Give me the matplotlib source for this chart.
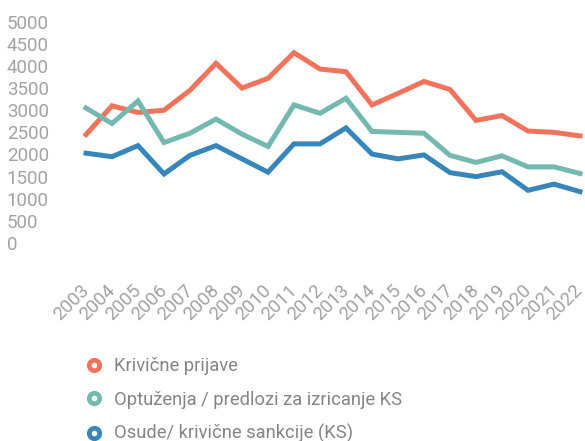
import matplotlib
matplotlib.use("Agg")
import matplotlib.pyplot as plt
from matplotlib.lines import Line2D

plt.rcParams['font.family'] = ['Roboto', 'DejaVu Sans']

# data
years = [str(y) for y in range(2003, 2023)]
prijave = [2450, 3100, 2950, 3000, 3450, 4060, 3500, 3720, 4300, 3930,
           3870, 3120, 3380, 3650, 3470, 2770, 2880, 2530, 2500, 2420]
optuzenja = [3050, 2700, 3210, 2270, 2480, 2800, 2460, 2180, 3120, 2930,
             3270, 2520, 2500, 2480, 1980, 1820, 1970, 1720, 1720, 1570]
osude = [2030, 1950, 2200, 1560, 1980, 2200, 1900, 1600, 2240, 2240,
         2600, 2010, 1900, 1990, 1590, 1500, 1610, 1190, 1330, 1160]
labels = ["Krivične prijave", "Optuženja / predlozi za izricanje KS",
          "Osude/ krivične sankcije (KS)"]
colors = ["#f2735b", "#73b9b0", "#3686b9"]
yticks = list(range(0, 5001, 500))

W, H = 585, 441
fig = plt.figure(figsize=(W / 100, H / 100), dpi=100)
ax = fig.add_axes([86 / W, 1 - 243 / H, (580 - 86) / W, (243 - 21.7) / H])

x = list(range(len(years)))
for vals, c in zip([prijave, optuzenja, osude], colors):
    ax.plot(x, vals, color=c, lw=3.6, solid_joinstyle='miter', clip_on=False)

ax.set_xlim(0, len(years) - 1)
ax.set_ylim(0, 5000)
ax.set_yticks(yticks)
ax.set_yticklabels([str(t) for t in yticks])
ax.set_xticks(x)
ax.set_xticklabels(years)
for s in ax.spines.values():
    s.set_visible(False)
ax.tick_params(axis='y', length=0, pad=57, labelsize=13.5, labelcolor='#a3a3a3')
ax.tick_params(axis='x', length=0, pad=32, labelsize=13.5, labelcolor='#a3a3a3')
for t in ax.get_yticklabels():
    t.set_ha('left')
for t in ax.get_xticklabels():
    t.set_rotation(45)
    t.set_ha('right')
    t.set_va('center')
    t.set_rotation_mode('anchor')

handles = [Line2D([], [], ls='none', marker='o', ms=7.5, mew=3.4,
                  mfc='white', mec=c) for c in colors]
leg = fig.legend(handles, labels, loc='upper left',
                 bbox_to_anchor=(85 / W, 1 - 357 / H), frameon=False,
                 fontsize=13.2, handlelength=1.0, handletextpad=0.6,
                 labelspacing=0.85, borderpad=0, borderaxespad=0)
for t in leg.get_texts():
    t.set_color('#858585')

fig.savefig("out.png", dpi=100)
